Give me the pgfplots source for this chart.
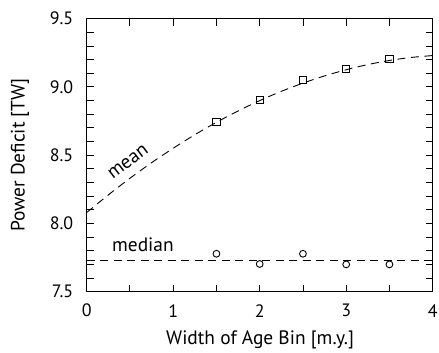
\documentclass[border=0pt]{standalone}
\usepackage{fontspec}
\setmainfont{PT Sans}
\usepackage{pgfplots}
\pgfplotsset{compat=1.18}
\begin{document}
\begin{tikzpicture}[x=1bp,y=1bp]
\begin{axis}[
  at={(0,0)}, anchor=south west,
  scale only axis, width=346bp, height=273bp,
  xmin=0, xmax=4, ymin=7.5, ymax=9.5,
  xtick={0,1,2,3,4}, minor xtick={0.5,1.5,2.5,3.5},
  ytick={7.5,8.0,8.5,9.0,9.5}, minor ytick={7.6,7.7,7.8,7.9,8.1,8.2,8.3,8.4,8.6,8.7,8.8,8.9,9.1,9.2,9.3,9.4},
  yticklabel style={/pgf/number format/fixed,/pgf/number format/fixed zerofill,/pgf/number format/precision=1, xshift=-10bp},
  xticklabel style={anchor=center, yshift=-19bp},
  /pgf/number format/assume math mode=true,
  tick align=inside, major tick length=7bp, minor tick length=7bp,
  tick style={black, line width=0.9bp},
  axis line style={line width=1.2bp},
  ticklabel style={font=\fontsize{18}{20}\selectfont},
  xlabel={Width of Age Bin [m.y.]}, ylabel={Power Deficit [TW]},
  every axis x label/.style={at={(axis description cs:0.501,-0.177)}, anchor=center, font=\fontsize{19.5}{22}\selectfont},
  every axis y label/.style={at={(axis description cs:-0.193,0.5)}, anchor=center, rotate=90, font=\fontsize{19.5}{22}\selectfont},
  clip=true,
]
\addplot[black, line width=0.9bp, dash pattern=on 8bp off 5.5bp, smooth] coordinates {
 (0,8.080) (0.25,8.209) (0.5,8.331) (0.75,8.445) (1,8.551) (1.25,8.650) (1.5,8.741)
 (1.75,8.824) (2,8.900) (2.25,8.968) (2.5,9.028) (2.75,9.081) (3,9.126) (3.25,9.164)
 (3.5,9.194) (3.75,9.216) (4,9.230)};
\addplot[black, line width=0.9bp, dash pattern=on 8bp off 5.5bp] coordinates {(0,7.732) (4,7.732)};
\addplot[only marks, mark=square, mark size=3.6bp, mark options={fill=white, line width=0.9bp}] coordinates {
 (1.5,8.745) (2,8.904) (2.5,9.051) (3,9.129) (3.5,9.203)};
\addplot[only marks, mark=o, mark size=3.4bp, mark options={fill=white, line width=0.9bp}] coordinates {
 (1.5,7.778) (2,7.703) (2.5,7.778) (3,7.700) (3.5,7.700)};
\node[rotate=37, font=\fontsize{19.5}{22}\selectfont] at (axis cs:0.48,8.45) {mean};
\node[font=\fontsize{19.5}{22}\selectfont] at (axis cs:0.65,7.842) {median};
\end{axis}
\pgfresetboundingbox
\path[use as bounding box] (-86.7bp,-61.3bp) rectangle (352.3bp,291.7bp);
\end{tikzpicture}
\end{document}
